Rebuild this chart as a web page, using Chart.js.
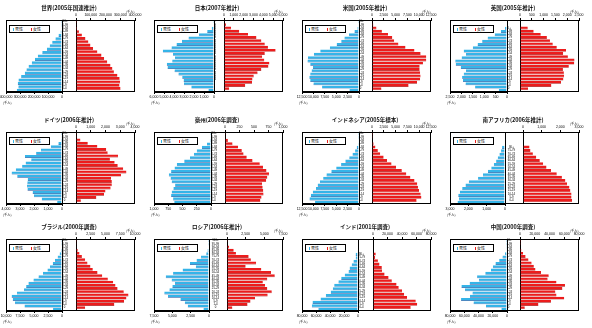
<!DOCTYPE html>
<html>
<head>
<meta charset="utf-8">
<script src="https://cdn.jsdelivr.net/npm/chart.js@4.4.1/dist/chart.umd.min.js"></script>
<style>
body { margin: 0; background: #fff; width: 592px; height: 328px; overflow: hidden; position: relative; font-family: "Noto Sans CJK JP", sans-serif; }
canvas { position: absolute; }
.frame { position: absolute; border: 1px solid #000; box-sizing: border-box; pointer-events: none; }
.title { position: absolute; font-size: 5.5px; font-weight: bold; white-space: nowrap; transform: translateX(-50%); line-height: 1; color: #111; }
.unit { position: absolute; font-size: 3.2px; white-space: nowrap; line-height: 1; }
.legend { position: absolute; border: 1px solid #000; background: #fff; box-sizing: border-box; font-size: 4px; line-height: 1; display: flex; align-items: center; padding-left: 3px; white-space: nowrap; }
.legend i { display: inline-block; width: 3px; height: 3px; margin-right: 1px; }
.legend span { margin-right: 8px; }
</style>
</head>
<body>
<script>
const ages21 = ['0-4', '5-9', '10-14', '15-19', '20-24', '25-29', '30-34', '35-39', '40-44', '45-49', '50-54',
    '55-59', '60-64', '65-69', '70-74', '75-79', '80-84', '85-89', '90-94', '95-99', '100+'];
const ages22 = ['0', '1-4', '5-9', '10-14', '15-19', '20-24', '25-29', '30-34', '35-39', '40-44', '45-49', '50-54',
    '55-59', '60-64', '65-69', '70-74', '75-79', '80-84', '85-89', '90-94', '95-99', '100+'];
const agesUK = ['0', '1-4', '5-9', '10-14', '15-19', '20-24', '25-29', '30-34', '35-39', '40-44', '45-49', '50-54',
    '55-59', '60-64', '65-69', '70-74', '75-79', '80-84', '85-89', '90+', '', ''];
const ages80 = ['0-4', '5-9', '10-14', '15-19', '20-24', '25-29', '30-34', '35-39', '40-44', '45-49', '50-54',
    '55-59', '60-64', '65-69', '70-74', '75-79', '80+', '', '', '', ''];

// thousands, youngest first
const worldMale = [323000, 312000, 316000, 311000, 292000, 266000, 254000, 239000, 216000, 193000, 173000, 141000, 108000, 88000, 70000, 47000, 25000, 10000, 3000, 500, 70];
const worldFemale = [302000, 295000, 299000, 296000, 281000, 257000, 247000, 234000, 212000, 191000, 173000, 145000, 116000, 98000, 84000, 64000, 40000, 20000, 7000, 1500, 200];
const japanMale = [560, 2270, 3000, 3040, 3180, 3560, 3950, 4650, 4720, 4180, 3900, 4100, 5120, 4250, 3750, 3200, 2550, 1500, 680, 230, 45, 5];
const japanFemale = [535, 2160, 2850, 2900, 3030, 3420, 3800, 4520, 4620, 4100, 3880, 4150, 5250, 4470, 4150, 3800, 3300, 2450, 1550, 720, 200, 30];
const usMale = [2100, 8100, 10000, 10700, 10900, 10700, 10400, 10100, 10700, 11300, 11200, 9900, 8500, 6400, 4900, 3900, 3200, 2200, 1000, 350, 70, 10];
const usFemale = [2000, 7750, 9550, 10200, 10300, 10200, 10100, 10100, 10800, 11500, 11500, 10300, 9000, 7100, 5600, 4700, 4300, 3400, 2100, 950, 280, 50];
const ukMale = [360, 1400, 1820, 1930, 1970, 1900, 1800, 2030, 2250, 2270, 1990, 1800, 1900, 1500, 1290, 1090, 850, 540, 270, 90, null, null];
const ukFemale = [340, 1330, 1740, 1840, 1870, 1860, 1820, 2070, 2300, 2310, 2030, 1830, 1950, 1560, 1390, 1270, 1140, 880, 580, 330, null, null];
const deMale = [345, 1450, 2000, 2100, 2470, 2500, 2480, 2450, 3200, 3600, 3300, 2850, 2600, 2200, 2650, 1850, 1500, 800, 260, 70, 15, 1];
const deFemale = [330, 1380, 1900, 2000, 2350, 2430, 2430, 2380, 3050, 3420, 3200, 2830, 2620, 2300, 2850, 2150, 2050, 1450, 800, 300, 60, 8];
const auMale = [645, 665, 700, 690, 660, 630, 690, 710, 740, 700, 640, 600, 470, 370, 300, 250, 160, 70, 20, 4, 0.5];
const auFemale = [610, 630, 665, 660, 650, 640, 710, 730, 760, 715, 655, 600, 475, 375, 320, 290, 225, 130, 50, 12, 2];
const idMale = [9640, 10860, 10570, 10140, 9430, 9070, 8570, 7860, 7140, 6070, 5000, 3930, 3000, 2140, 1430, 860, 500, 200, 60, 15, 3];
const idFemale = [9450, 10470, 10320, 9960, 9740, 9590, 9010, 8140, 7270, 6320, 5090, 4140, 3200, 2470, 1740, 1240, 730, 350, 100, 30, 5];
const zaMale = [2590, 2515, 2550, 2460, 2335, 2155, 1975, 1470, 1200, 930, 750, 610, 485, 395, 305, 215, 160, null, null, null, null];
const zaFemale = [2630, 2600, 2600, 2540, 2490, 2360, 2270, 2085, 1810, 1500, 1260, 1080, 900, 710, 530, 400, 350, null, null, null, null];
const brMale = [1600, 6700, 8400, 8800, 9000, 8050, 6800, 6400, 6000, 5100, 4200, 3400, 2600, 2150, 1650, 1250, 780, 420, 190, 70, 20, 10];
const brFemale = [1550, 6500, 8150, 8550, 8900, 8100, 7050, 6700, 6300, 5400, 4450, 3650, 2850, 2450, 1950, 1550, 1000, 600, 300, 120, 35, 15];
const ruMale = [760, 2900, 3300, 3900, 5600, 6100, 5400, 5000, 4650, 5100, 5900, 4900, 3600, 1800, 2600, 1700, 1100, 380, 200, 60, 10, 2];
const ruFemale = [720, 2750, 3150, 3750, 5450, 6000, 5400, 5100, 4800, 5400, 6400, 5900, 4600, 2500, 3900, 3200, 2900, 1200, 900, 280, 50, 8];
const inMale = [56700, 66000, 65000, 53500, 46000, 39000, 36000, 34000, 28000, 24000, 19000, 13500, 12000, 9000, 6500, 3300, 3400, null, null, null, null];
const inFemale = [52000, 61000, 59000, 47000, 43000, 40000, 35500, 32500, 26000, 21500, 16000, 12500, 12200, 9000, 6800, 3000, 3800, null, null, null, null];
const cnMale = [7900, 29500, 47000, 64500, 52000, 48500, 59000, 64000, 52500, 39500, 42000, 30500, 22500, 19900, 16200, 11000, 6400, 2900, 1000, 230, 40, 3];
const cnFemale = [6500, 25000, 42000, 60000, 49500, 48000, 57500, 61000, 49500, 37500, 39000, 28500, 21000, 18800, 15800, 11500, 7600, 4300, 1900, 600, 120, 15];

const titles = ['世界(2005年国連推計)', '日本(2007年推計)', '米国(2005年推計)', '英国(2005年推計)',
    'ドイツ(2006年推計)', '豪州(2006年調査)', 'インドネシア(2005年標本)', '南アフリカ(2006年推計)',
    'ブラジル(2000年調査)', 'ロシア(2006年推計)', 'インド(2001年調査)', '中国(2000年調査)'];
const axisMax = [400000, 6000, 12500, 2500, 4000, 1000, 12500, 3000, 10000, 7500, 80000, 80000];
const axisStep = [100000, 1000, 2500, 500, 1000, 250, 2500, 1000, 2500, 2500, 20000, 20000];
const maleZero = [62, 66, 63, 63, 62, 63, 63, 61, 62, 61, 62, 63];
const femaleZero = [76, 76, 76, 76, 76, 77, 76, 79, 76, 79, 77, 76];

const maleColor = '#35b4e8';
const maleEdge = '#1f4f9c';
const femaleColor = '#ec1c1c';
const femaleEdge = '#a01010';
const colX = [0, 148, 296, 444];
const rowY = [0, 112, 219];
const frameL = 6, frameR = 135, frameT = 20, frameB = 92;
const axisH = 8;

const panels = [
    [ages21, worldMale, worldFemale], [ages22, japanMale, japanFemale], [ages22, usMale, usFemale], [agesUK, ukMale, ukFemale],
    [ages22, deMale, deFemale], [ages21, auMale, auFemale], [ages21, idMale, idFemale], [ages80, zaMale, zaFemale],
    [ages22, brMale, brFemale], [ages22, ruMale, ruFemale], [ages80, inMale, inFemale], [ages22, cnMale, cnFemale]
];

const tickFont = { family: '"Liberation Sans Narrow", "Liberation Sans", sans-serif', size: 3.5 };
const ageFont = { family: '"Liberation Sans Narrow", "Liberation Sans", sans-serif', size: 2.8 };
const barEdge = { top: 0, left: 0, right: 0, bottom: 0.7 };

function addDiv(cls, text, left, top) {
    const d = document.createElement('div');
    d.className = cls;
    if (text) d.textContent = text;
    d.style.left = left + 'px';
    d.style.top = top + 'px';
    document.body.appendChild(d);
    return d;
}

function addCanvas(left, top, w, h) {
    const c = document.createElement('canvas');
    c.width = w;
    c.height = h;
    c.style.left = left + 'px';
    c.style.top = top + 'px';
    document.body.appendChild(c);
    return c;
}

function fmt(v) {
    return Number(v).toLocaleString('en-US');
}

panels.forEach((p, i) => {
    const [labels, male, female] = p;
    const px = colX[i % 4];
    const py = rowY[Math.floor(i / 4)];
    const mz = maleZero[i];
    const fz = femaleZero[i];
    const plotH = frameB - frameT;

    // male side: reversed x axis, numbers underneath
    const mc = addCanvas(px - 2, py + frameT, mz + 6, plotH + axisH);
    new Chart(mc.getContext('2d'), {
        type: 'bar',
        data: {
            labels: labels,
            datasets: [{ data: male, backgroundColor: maleColor, borderColor: maleEdge, borderWidth: barEdge, borderSkipped: false, barPercentage: 0.92, categoryPercentage: 1 }]
        },
        options: {
            indexAxis: 'y', responsive: false, animation: false, devicePixelRatio: 1,
            layout: { padding: { left: frameL + 2, right: 4, top: 0, bottom: 0 } },
            plugins: { legend: { display: false }, tooltip: { enabled: false } },
            scales: {
                x: {
                    position: 'bottom', reverse: true, min: 0, max: axisMax[i],
                    ticks: { stepSize: axisStep[i], font: tickFont, color: '#000', padding: 1, maxRotation: 0, autoSkip: false, callback: fmt },
                    grid: { drawOnChartArea: false, tickLength: 2, color: '#000' },
                    border: { display: true, color: '#000' },
                    afterFit: (a) => { a.height = axisH; }
                },
                y: {
                    position: 'right', reverse: true,
                    ticks: { display: false },
                    grid: { display: false },
                    border: { display: true, color: '#000' },
                    afterFit: (a) => { a.width = 0; }
                }
            }
        }
    });

    // female side: age labels in the middle column, numbers on top
    const fc = addCanvas(px + mz, py + frameT - axisH, frameR - mz + 8, plotH + axisH);
    new Chart(fc.getContext('2d'), {
        type: 'bar',
        data: {
            labels: labels,
            datasets: [{ data: female, backgroundColor: femaleColor, borderColor: femaleEdge, borderWidth: barEdge, borderSkipped: false, barPercentage: 0.92, categoryPercentage: 1 }]
        },
        options: {
            indexAxis: 'y', responsive: false, animation: false, devicePixelRatio: 1,
            layout: { padding: { left: 0, right: 8, top: 0, bottom: 0 } },
            plugins: { legend: { display: false }, tooltip: { enabled: false } },
            scales: {
                x: {
                    position: 'top', min: 0, max: axisMax[i],
                    ticks: { stepSize: axisStep[i], font: tickFont, color: '#000', padding: 1, maxRotation: 0, autoSkip: false, callback: fmt },
                    grid: { drawOnChartArea: false, tickLength: 2, color: '#000' },
                    border: { display: true, color: '#000' },
                    afterFit: (a) => { a.height = axisH; }
                },
                y: {
                    position: 'left', reverse: true,
                    ticks: { font: ageFont, color: '#000', crossAlign: 'center', padding: 0, autoSkip: false },
                    grid: { display: false },
                    border: { display: true, color: '#000' },
                    afterFit: (a) => { a.width = fz - mz; }
                }
            }
        }
    });

    const fr = addDiv('frame', '', px + frameL, py + frameT);
    fr.style.width = (frameR - frameL) + 'px';
    fr.style.height = plotH + 'px';

    addDiv('title', titles[i], px + 69, py + 6);
    addDiv('unit', '(千人)', px + 126, py + 10);
    addDiv('unit', '(千人)', px + 3, py + 101);

    const lg = addDiv('legend', '', px + 9, py + 25);
    lg.style.width = '41px';
    lg.style.height = '8px';
    lg.innerHTML = '<i style="background:' + maleColor + '"></i><span>男性</span><i style="background:' + femaleColor + '"></i><span>女性</span>';
});
</script>
</body>
</html>
